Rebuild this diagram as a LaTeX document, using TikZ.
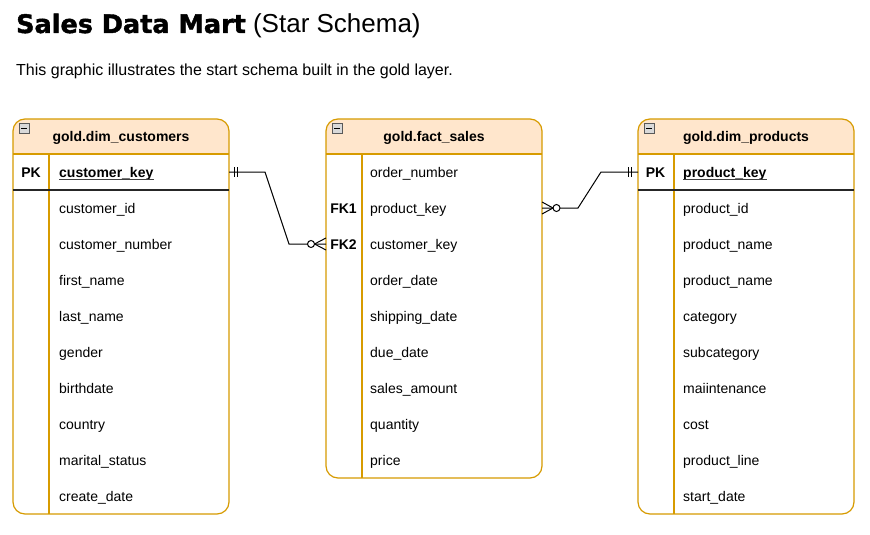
\documentclass[tikz,border=0pt]{standalone}
\usepackage{fontspec}
\setmainfont{Liberation Sans}
\newfontfamily\titlefont{DejaVu Sans}[BoldFeatures={FakeBold=1.6}]
\usetikzlibrary{calc}
\definecolor{hdrc}{HTML}{FFE6CC}
\definecolor{tblc}{HTML}{D79B00}
\tikzset{
  conn/.style={draw=black, line width=1pt},
  tblline/.style={draw=tblc, line width=1.2pt},
  tblshape/.style={rectangle, minimum width=216pt, inner sep=0pt, outer sep=0pt, fill=white, rounded corners=12pt},
  hdrtxt/.style={font=\fontsize{14}{16}\selectfont\bfseries, inner sep=0pt},
  rowtxt/.style={font=\fontsize{14}{16}\selectfont, inner sep=0pt, anchor=base west},
  keytxt/.style={font=\fontsize{14}{16}\selectfont\bfseries, inner sep=0pt, anchor=base},
  icon/.style={draw=gray!70!black, fill=gray!30, line width=0.6pt},
  pksep/.style={draw=black!85, line width=1.1pt},
  uline/.style={draw=black!75, line width=0.9pt}
}
\newcommand{\ertbl}[5]{%
  \node[tblshape, minimum height=#4, anchor=north west] (#1) at (#2,#3) {};
  \begin{scope}
    \clip (#1.north west) rectangle ([yshift=-35pt]#1.north east);
    \fill[hdrc, rounded corners=12pt] (#1.north west) rectangle (#1.south east);
  \end{scope}
  \draw[tblline] ([yshift=-35pt]#1.north west) -- ([yshift=-35pt]#1.north east);
  \draw[tblline] ([shift={(36pt,-35pt)}]#1.north west) -- ([xshift=36pt]#1.south west);
  \draw[tblline, rounded corners=12pt] (#1.north west) rectangle (#1.south east);
  \node[hdrtxt, anchor=base] (#1-title) at ([yshift=-22pt]#1.north) {#5};
  \draw[icon] ([shift={(6pt,-4pt)}]#1.north west) rectangle ([shift={(16pt,-14pt)}]#1.north west);
  \draw[line width=1pt] ([shift={(8pt,-9pt)}]#1.north west) -- ([shift={(14pt,-9pt)}]#1.north west);
}
\begin{document}
\begin{tikzpicture}[x=1pt, y=-1pt]
\useasboundingbox (0,0) rectangle (870,535);
\fill[white] (0,0) rectangle (870,535);

% titles
\node[anchor=base west, inner sep=0pt, font=\fontsize{26}{30}\selectfont] (title) at (16,33)
  {{\titlefont\bfseries\fontsize{25.5}{30}\selectfont Sales Data Mart} (Star Schema)};
\node[anchor=base west, inner sep=0pt, font=\fontsize{16}{19}\selectfont] (subtitle) at (16,76)
  {This graphic illustrates the start schema built in the gold layer.};

% tables
\ertbl{cust}{13}{119}{395pt}{gold.dim\_customers}
\ertbl{fact}{326}{119}{359pt}{gold.fact\_sales}
\ertbl{prod}{638}{119}{395pt}{gold.dim\_products}

\coordinate (sep) at (0,190);
\draw[pksep] (cust.west |- sep) -- (cust.east |- sep);
\draw[pksep] (prod.west |- sep) -- (prod.east |- sep);

% customers
\node[keytxt] (cust-pklbl) at (31,177) {PK};
\node[rowtxt, font=\fontsize{14}{16}\selectfont\bfseries] (cust-pk) at (59,177) {customer\_key};
\draw[uline] ([yshift=-2.5pt]cust-pk.base west) -- ([yshift=-2.5pt]cust-pk.base east);
\foreach \t [count=\i] in {customer\_id,customer\_number,first\_name,last\_name,gender,birthdate,country,marital\_status,create\_date}
  \node[rowtxt] (cust-r\i) at (59,{177+36*\i}) {\t};

% fact
\foreach \t [count=\i from 0] in {order\_number,product\_key,customer\_key,order\_date,shipping\_date,due\_date,sales\_amount,quantity,price}
  \node[rowtxt] (fact-r\i) at (370,{177+36*\i}) {\t};
\node[keytxt] (fk1) at (343.5,213) {FK1};
\node[keytxt] (fk2) at (343.5,249) {FK2};

% products
\node[keytxt] (prod-pklbl) at (655.5,177) {PK};
\node[rowtxt, font=\fontsize{14}{16}\selectfont\bfseries] (prod-pk) at (683,177) {product\_key};
\draw[uline] ([yshift=-2.5pt]prod-pk.base west) -- ([yshift=-2.5pt]prod-pk.base east);
\foreach \t [count=\i] in {product\_id,product\_name,product\_name,category,subcategory,maiintenance,cost,product\_line,start\_date}
  \node[rowtxt] (prod-r\i) at (683,{177+36*\i}) {\t};

% connector anchors
\coordinate (ckrow) at (0,172);
\coordinate (fk1row) at (0,208);
\coordinate (fk2row) at (0,244);
\coordinate (pkrow) at (0,172);
\coordinate (a1) at (cust.east |- ckrow);
\coordinate (a2) at (fact.west |- fk2row);
\coordinate (b1) at (fact.east |- fk1row);
\coordinate (b2) at (prod.west |- pkrow);

% customers -> fact
\draw[conn] (a1) -- ($(a1)+(36pt,0)$) -- ($(a2)+(-37pt,0)$) -- (a2);
\draw[conn] ($(a1)+(5pt,5pt)$) -- ($(a1)+(5pt,-5pt)$);
\draw[conn] ($(a1)+(8.5pt,5pt)$) -- ($(a1)+(8.5pt,-5pt)$);
\draw[conn] ($(a2)+(-11.5pt,0)$) -- ($(a2)+(0,6pt)$);
\draw[conn] ($(a2)+(-11.5pt,0)$) -- ($(a2)+(0,-6pt)$);
\draw[conn, fill=white] ($(a2)+(-15pt,0)$) circle[radius=3.5pt];

% fact -> products
\draw[conn] (b1) -- ($(b1)+(36pt,0)$) -- ($(b2)+(-37pt,0)$) -- (b2);
\draw[conn] ($(b1)+(11pt,0)$) -- ($(b1)+(0,6pt)$);
\draw[conn] ($(b1)+(11pt,0)$) -- ($(b1)+(0,-6pt)$);
\draw[conn, fill=white] ($(b1)+(14.5pt,0)$) circle[radius=3.5pt];
\draw[conn] ($(b2)+(-10pt,5pt)$) -- ($(b2)+(-10pt,-5pt)$);
\draw[conn] ($(b2)+(-6.5pt,5pt)$) -- ($(b2)+(-6.5pt,-5pt)$);
\end{tikzpicture}
\end{document}
